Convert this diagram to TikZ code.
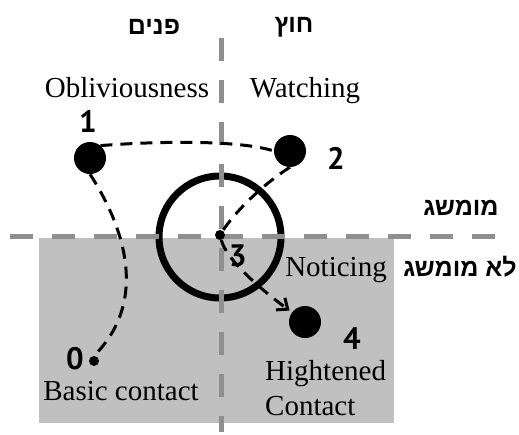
\documentclass[tikz,border=0pt]{standalone}
\usepackage{fontspec}
\setmainfont{Liberation Serif}
\newfontfamily\hebfont[Script=Hebrew]{Liberation Sans Bold}
\newfontfamily\digfont{PT Sans Bold}
\TeXXeTstate=1
\usetikzlibrary{arrows.meta}
\definecolor{guidegray}{RGB}{143,143,143}
\definecolor{zonegray}{RGB}{192,192,192}
\begin{document}
\begin{tikzpicture}[x=1pt,y=-1pt,
  guide/.style={draw=guidegray, line width=5pt, dash pattern=on 23pt off 19pt},
  route/.style={draw=black, line width=3pt, dash pattern=on 12pt off 8pt},
  bigdot/.style={circle, fill=black, minimum size=32pt, inner sep=0pt},
  smalldot/.style={circle, fill=black, minimum size=10pt, inner sep=0pt},
  lbl/.style={font=\fontsize{29}{35}\selectfont, inner sep=0pt},
  num/.style={font=\digfont\fontsize{31}{31}\selectfont, inner sep=0pt},
  heb/.style={font=\hebfont\fontsize{25}{28}\selectfont, inner sep=0pt}]
\useasboundingbox (0,0) rectangle (519,434);
% shaded zone
\fill[zonegray] (39,238) rectangle (394,423);
% big circle
\node[circle, draw=black, line width=7pt, minimum size=122pt, inner sep=0pt] (ring) at (220,237) {};
% guides
\coordinate (vtop) at (221,38);
\coordinate (vbot) at (221,432);
\coordinate (hl) at (10,236.5);
\coordinate (hr) at (497,236.5);
\draw[guide] (vtop) -- (vbot);
\draw[guide] (hl) -- (hr);
% dots
\node[bigdot] (d1) at (90,158) {};
\node[bigdot] (d2) at (290,151) {};
\node[bigdot] (d4) at (305,322) {};
\node[smalldot] (d0) at (94,361) {};
\node[smalldot] (d3) at (220,235) {};
% routes
\draw[route] (d1.50) .. controls (160,141) and (240,140) .. (d2.west);
\draw[route] (d1.south) .. controls (123,225) and (150,300) .. (d0.north);
\draw[route] (d2.south) .. controls (262,185) and (235,212) .. (d3);
\draw[route, -{Straight Barb[length=9pt,width=15pt,line width=3pt]}, shorten >=3pt] (d3) .. controls (226,258) and (255,285) .. (d4);
% hebrew labels
\node[heb] (pnim) at (154,27) {\beginR פנים\endR};
\node[heb] (hutz) at (294,27) {\beginR חוץ\endR};
\node[heb] (mumshag) at (461,208) {\beginR מומשג\endR};
\node[heb] (lomumshag) at (460,267) {\beginR לא מומשג\endR};
% text labels
\node[lbl, anchor=base] (obl) at (127,97) {Obliviousness};
\node[lbl, anchor=base] (wat) at (305,97) {Watching};
\node[lbl, anchor=base] (not) at (336,276) {Noticing};
\node[lbl, anchor=base] (bas) at (121,400) {Basic contact};
\node[lbl, anchor=base west, align=left] (hig) at (265,415) {Hightened\\Contact};
% numbers
\node[num] (n1) at (88,121) {1};
\node[num] (n2) at (336,158) {2};
\node[num] (n0) at (75,359) {0};
\node[num] (n4) at (352,339) {4};
\node[num] (n3) at (238,256) {3};
\end{tikzpicture}
\end{document}
